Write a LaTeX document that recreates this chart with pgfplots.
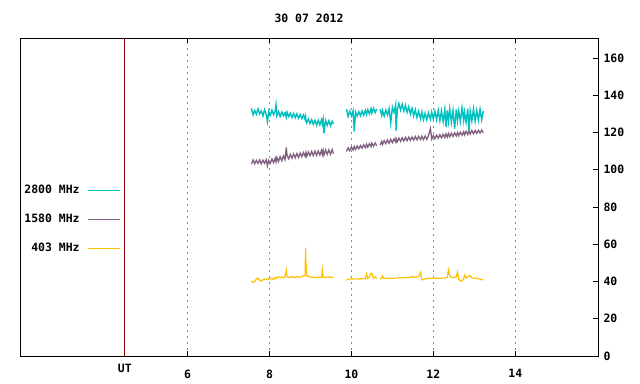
\documentclass[border=0pt]{standalone}
\usepackage{pgfplots}
\pgfplotsset{compat=1.18}
\usepackage{pgfplotstable}
\usepackage{fontspec}
\setmainfont{DejaVu Sans Mono}
\definecolor{ccyan}{RGB}{0,192,192}
\definecolor{cpurp}{RGB}{128,96,128}
\definecolor{corange}{RGB}{255,192,0}
\definecolor{utred}{RGB}{139,0,0}

\pgfplotstableread{
x c p o
7.56 133.0 103.0 40.3
7.60 129.5 105.2 39.6
7.64 131.8 103.2 40.0
7.68 129.8 105.0 41.3
7.72 132.6 103.4 41.8
7.76 130.0 105.3 40.6
7.80 131.5 103.1 40.2
7.84 128.8 105.1 40.8
7.88 132.2 103.4 41.4
7.92 129.6 105.4 41.2
7.95 125.8 102.0 41.0
7.98 131.4 105.0 41.6
8.02 129.2 103.4 41.3
8.06 132.0 105.8 41.8
8.10 129.5 103.8 41.0
8.14 131.6 106.2 42.0
8.16 134.8 104.2 41.6
8.18 129.0 106.6 42.2
8.22 131.2 104.4 42.5
8.26 128.6 107.0 42.1
8.30 131.0 104.8 42.3
8.34 128.9 107.4 42.0
8.38 130.6 105.4 42.4
8.41 128.2 112.0 46.2
8.43 130.9 107.6 42.6
8.47 128.5 105.8 42.0
8.51 130.4 108.2 42.4
8.55 128.0 106.2 42.6
8.59 130.2 108.5 42.1
8.63 127.9 106.4 42.3
8.67 130.0 108.7 42.6
8.71 127.6 106.6 42.2
8.75 129.6 109.0 42.5
8.79 127.4 107.0 42.8
8.83 129.4 109.2 43.0
8.87 127.0 107.2 43.2
8.88 128.4 108.4 58.2
8.89 126.6 109.3 50.6
8.91 125.2 107.2 43.0
8.95 127.2 109.5 42.8
8.99 124.8 107.5 42.5
9.03 126.8 109.8 42.2
9.07 124.4 107.6 42.4
9.11 126.6 110.0 42.0
9.15 123.9 107.7 42.3
9.19 126.5 110.1 42.1
9.23 124.0 107.9 42.4
9.27 126.8 110.3 42.0
9.29 124.6 108.2 46.2
9.31 127.0 110.4 42.2
9.33 119.6 107.8 42.0
9.37 126.4 110.6 42.3
9.41 123.8 108.2 42.5
9.45 126.3 110.7 42.2
9.49 123.6 108.3 42.4
9.53 126.0 110.8 42.1
9.56 124.6 108.6 42.3
9.70 nan nan nan
9.88 132.5 109.8 40.6
9.92 128.6 111.8 41.2
9.96 131.4 110.2 41.4
10.00 128.9 112.2 41.3
10.04 131.6 110.6 41.4
10.07 120.4 112.5 41.3
10.10 131.0 110.8 41.4
10.14 128.8 112.8 41.4
10.18 131.2 111.2 41.3
10.22 129.0 113.0 41.5
10.26 131.6 111.5 41.4
10.30 129.3 113.4 41.6
10.34 131.9 111.8 41.5
10.37 129.6 113.7 44.0
10.40 132.2 112.1 41.6
10.44 130.0 114.0 42.4
10.48 132.8 112.4 44.4
10.50 130.4 114.3 44.2
10.54 133.0 112.6 41.8
10.58 130.6 114.4 42.5
10.62 132.6 112.9 41.6
10.66 nan nan nan
10.70 132.4 113.2 41.5
10.74 129.2 115.2 41.6
10.76 131.8 113.6 43.0
10.80 128.8 115.6 41.6
10.84 132.0 114.0 41.6
10.88 129.4 116.0 41.6
10.92 132.8 114.2 41.7
10.96 124.9 116.3 41.6
11.00 133.6 114.5 41.7
11.04 130.8 116.6 41.8
11.08 134.8 114.8 41.8
11.09 121.0 116.8 41.8
11.12 132.2 115.0 41.9
11.16 135.6 117.0 42.0
11.20 132.0 115.2 41.9
11.24 135.2 117.2 42.0
11.28 131.5 115.4 42.1
11.32 134.6 117.4 42.0
11.36 130.8 115.6 42.1
11.40 133.8 117.5 42.2
11.44 129.8 115.7 42.0
11.48 133.0 117.6 42.8
11.52 128.9 115.9 42.2
11.56 132.2 117.8 42.3
11.60 128.0 116.0 42.4
11.64 131.4 117.9 42.5
11.69 127.2 116.1 45.0
11.72 131.0 118.0 40.9
11.76 126.8 116.2 41.0
11.80 130.4 118.1 41.5
11.84 126.8 116.3 41.6
11.88 130.6 118.2 41.6
11.93 127.0 122.1 41.6
11.96 131.0 116.5 41.6
12.00 127.2 118.4 41.6
12.04 131.4 116.7 41.7
12.08 126.8 118.6 41.7
12.12 132.0 116.9 41.7
12.16 126.4 118.8 41.7
12.20 131.6 117.1 41.8
12.24 125.8 119.0 41.8
12.28 132.4 117.3 41.9
12.31 123.0 119.2 42.0
12.34 131.8 117.5 42.2
12.37 126.0 119.4 46.2
12.40 132.6 117.7 43.0
12.44 125.4 119.6 42.2
12.48 131.8 117.9 42.0
12.52 122.0 119.8 42.3
12.56 132.4 118.1 42.6
12.59 126.2 120.0 45.0
12.62 131.6 118.3 41.2
12.66 125.8 120.2 40.2
12.70 133.2 118.5 40.4
12.74 126.4 120.4 41.5
12.76 131.0 118.7 43.4
12.80 125.6 120.6 41.8
12.84 132.8 118.9 42.4
12.87 121.0 120.8 42.9
12.90 131.6 119.1 43.1
12.94 126.2 121.0 42.0
12.98 132.6 119.3 41.8
13.02 126.0 121.1 41.9
13.06 131.8 119.5 41.6
13.10 126.6 121.2 41.5
13.14 132.4 119.7 41.2
13.18 126.8 121.3 41.0
13.22 131.6 119.8 40.8
}\data

\begin{document}
\begin{tikzpicture}[font=\fontsize{11.5}{13}\selectfont\bfseries]
\path[use as bounding box] (-20bp,-28bp) rectangle (620bp,356bp);
\begin{axis}[
  at={(0,0)}, anchor=south west, scale only axis,
  width=578bp, height=318bp,
  xmin=1.91, xmax=16.02, ymin=0, ymax=170.7,
  xtick={6,8,10,12,14}, ytick={0,20,...,160},
  extra x ticks={4.47}, extra x tick labels={UT},
  extra x tick style={major tick length=0pt, grid=none, xticklabel style={yshift=5bp}},
  ytick pos=right, tick align=inside, major tick length=5bp,
  tick style={black, line width=0.8bp},
  xmajorgrids,
  grid style={gray!90, line width=0.9bp, dash pattern=on 2bp off 4bp},
  /pgf/number format/assume math mode=true,
  xticklabel style={yshift=-10bp},
  yticklabel style={xshift=2bp},
  axis line style={line width=0.8bp},
  title={30 07 2012},
  title style={at={(0.5,1)}, anchor=center, yshift=14bp},
  unbounded coords=jump,
  legend plot pos=right,
  legend cell align=right,
  legend image code/.code={\path[draw=none,fill=none] (0bp,-3bp) rectangle (38bp,3bp); \draw[#1, line width=1.5bp] (6bp,0bp) -- (38bp,0bp);},
  legend style={at={(rel axis cs:0.174,0.5435)}, anchor=north east, draw=none, fill=none,
    inner sep=0pt, row sep=15bp, font=\fontsize{11.5}{13}\selectfont\bfseries},
]
\addplot[utred, line width=1bp, forget plot] coordinates {(4.47,0) (4.47,170.7)};
\addplot[ccyan, line width=1.4bp] table[x=x,y=c]{\data};
\addlegendentry{2800 MHz}
\addplot[cpurp, line width=1.3bp] table[x=x,y=p]{\data};
\addlegendentry{1580 MHz}
\addplot[corange, line width=1.2bp] table[x=x,y=o]{\data};
\addlegendentry{403 MHz}
\end{axis}
\end{tikzpicture}
\end{document}
